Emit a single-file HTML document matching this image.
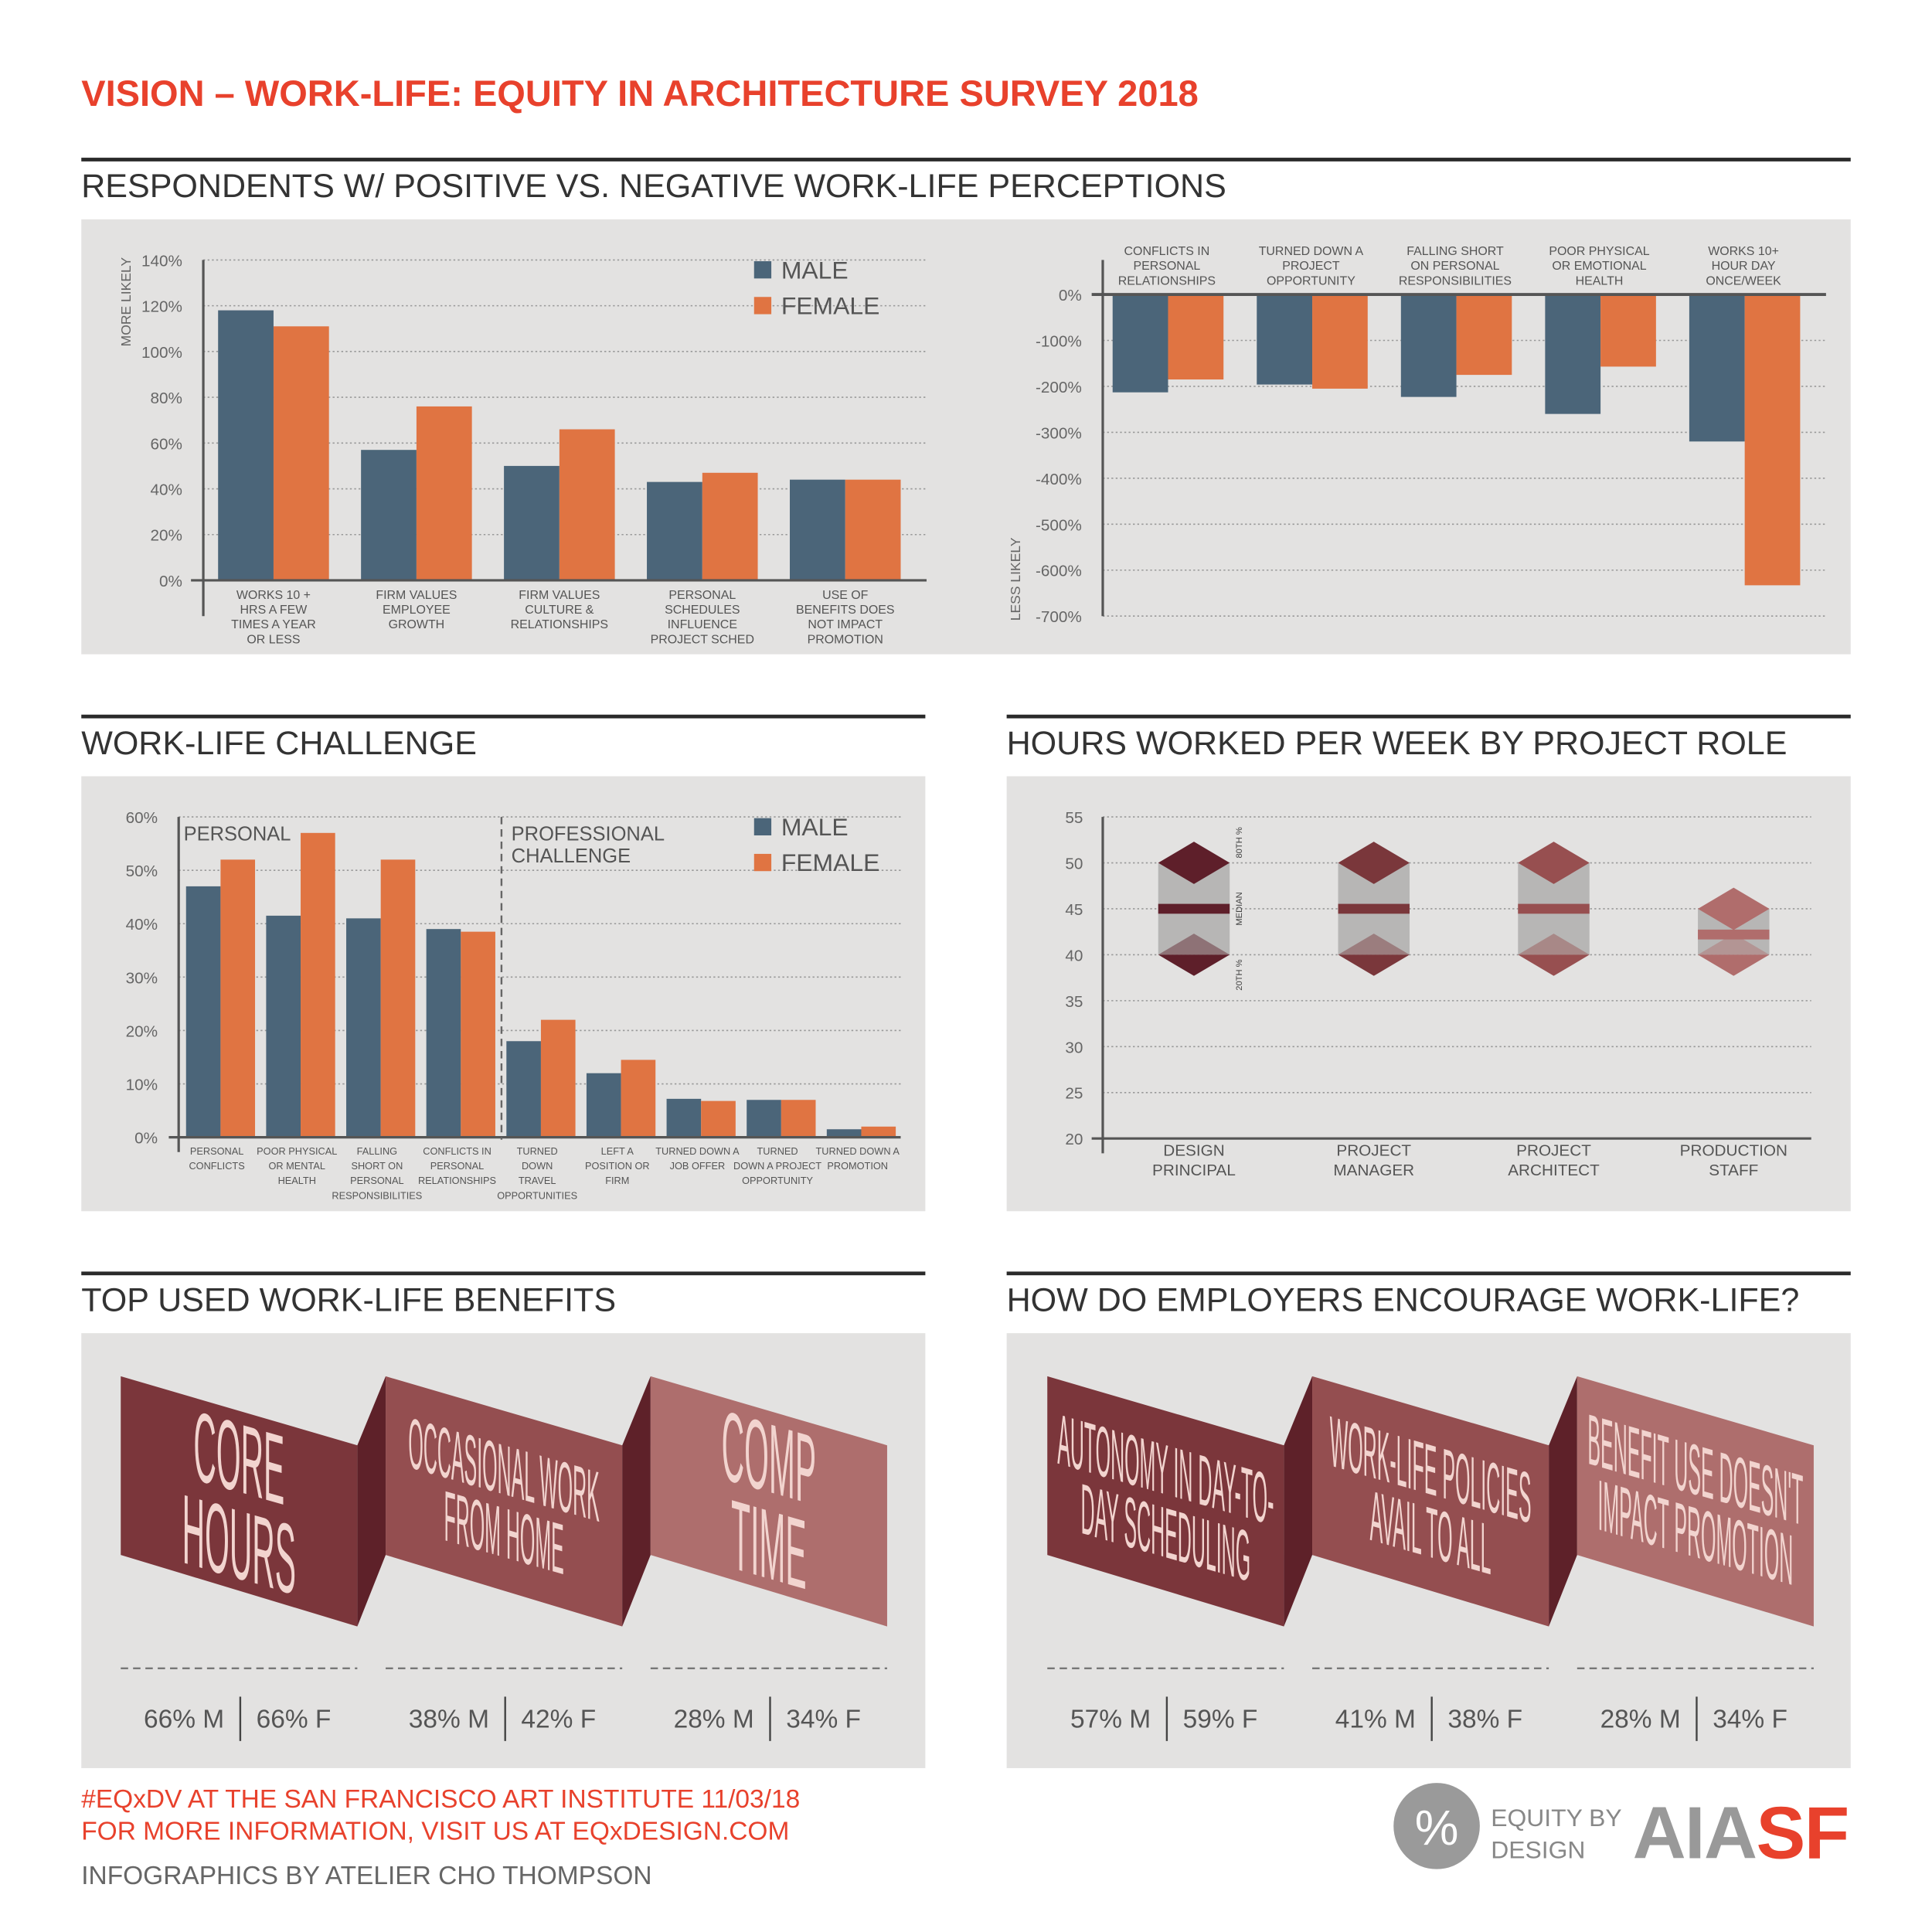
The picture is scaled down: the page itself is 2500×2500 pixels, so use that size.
<!DOCTYPE html>
<html><head><meta charset="utf-8">
<style>
html,body{margin:0;padding:0;background:#fff;}
svg{display:block;}
text{font-family:"Liberation Sans",sans-serif;}
</style></head>
<body>
<svg id="root" width="2500" height="2500" viewBox="0 0 1568 1568" xmlns="http://www.w3.org/2000/svg">
<rect width="1568" height="1568" fill="#ffffff"/>
<text x="66" y="86" font-size="29.5" font-weight="bold" fill="#e8412c">VISION – WORK-LIFE: EQUITY IN ARCHITECTURE SURVEY 2018</text>
<g id="static"></g>
<g id="c1"></g><g id="c2"></g><g id="c3"></g><g id="c4"></g><g id="c5"></g><g id="c6"></g>
<g>
<text x="66" y="1467" font-size="21" fill="#e8412c">#EQxDV AT THE SAN FRANCISCO ART INSTITUTE 11/03/18</text>
<text x="66" y="1493" font-size="21" fill="#e8412c">FOR MORE INFORMATION, VISIT US AT EQxDESIGN.COM</text>
<text x="66" y="1529" font-size="21" fill="#666">INFOGRAPHICS BY ATELIER CHO THOMPSON</text>
<circle cx="1166" cy="1482" r="35" fill="#9a9a9a"/>
<text x="1166" y="1497" font-size="40" fill="#fff" text-anchor="middle">%</text>
<text x="1210" y="1482" font-size="20" fill="#888">EQUITY BY</text>
<text x="1210" y="1508" font-size="20" fill="#888">DESIGN</text>
<text x="1325" y="1508" font-size="60" font-weight="bold" fill="#999" letter-spacing="-1">AIA<tspan fill="#e8412c">SF</tspan></text>
</g>
</svg>
<script>
const NS="http://www.w3.org/2000/svg";
function mk(p,tag,a,txt){const e=document.createElementNS(NS,tag);for(const k in a)e.setAttribute(k,a[k]);if(txt!==undefined)e.textContent=txt;p.appendChild(e);return e;}
const MALE="#4b6579",FEM="#e07442",GRID="#999";

// ---------- DATA ----------
const c1Cats=[["WORKS 10 +","HRS A FEW","TIMES A YEAR","OR LESS"],["FIRM VALUES","EMPLOYEE","GROWTH"],["FIRM VALUES","CULTURE &","RELATIONSHIPS"],["PERSONAL","SCHEDULES","INFLUENCE","PROJECT SCHED"],["USE OF","BENEFITS DOES","NOT IMPACT","PROMOTION"]];
const c1Male=[118,57,50,43,44];
const c1Female=[111,76,66,47,44];
const c1Ticks=[0,20,40,60,80,100,120,140];

const c2Cats=[["CONFLICTS IN","PERSONAL","RELATIONSHIPS"],["TURNED DOWN A","PROJECT","OPPORTUNITY"],["FALLING SHORT","ON PERSONAL","RESPONSIBILITIES"],["POOR PHYSICAL","OR EMOTIONAL","HEALTH"],["WORKS 10+","HOUR DAY","ONCE/WEEK"]];
const c2Male=[-213,-196,-223,-260,-320];
const c2Female=[-185,-205,-175,-157,-633];
const c2Ticks=[0,-100,-200,-300,-400,-500,-600,-700];

const c3Cats=[["PERSONAL","CONFLICTS"],["POOR PHYSICAL","OR MENTAL","HEALTH"],["FALLING","SHORT ON","PERSONAL","RESPONSIBILITIES"],["CONFLICTS IN","PERSONAL","RELATIONSHIPS"],["TURNED","DOWN","TRAVEL","OPPORTUNITIES"],["LEFT A","POSITION OR","FIRM"],["TURNED DOWN A","JOB OFFER"],["TURNED","DOWN A PROJECT","OPPORTUNITY"],["TURNED DOWN A","PROMOTION"]];
const c3Male=[47,41.5,41,39,18,12,7.2,7,1.5];
const c3Female=[52,57,52,38.5,22,14.5,6.8,7,2];
const c3Ticks=[0,10,20,30,40,50,60];

const c4Cats=[["DESIGN","PRINCIPAL"],["PROJECT","MANAGER"],["PROJECT","ARCHITECT"],["PRODUCTION","STAFF"]];
const c4P80=[50,50,50,45];
const c4Median=[45,45,45,42.2];
const c4P20=[40,40,40,40];
const c4Ticks=[20,25,30,35,40,45,50,55];

const c5Labels=[["CORE","HOURS"],["OCCASIONAL WORK","FROM HOME"],["COMP","TIME"]];
const c5Male=["66% M","38% M","28% M"];
const c5Female=["66% F","42% F","34% F"];
const c6Labels=[["AUTONOMY IN DAY-TO-","DAY SCHEDULING"],["WORK-LIFE POLICIES","AVAIL TO ALL"],["BENEFIT USE DOESN'T","IMPACT PROMOTION"]];
const c6Male=["57% M","41% M","28% M"];
const c6Female=["59% F","38% F","34% F"];

// ---------- STATIC LAYOUT ----------
const st=document.getElementById('static');
function section(x,y,w,title,ph,name){
  const r=mk(st,'rect',{x:x,y:y,width:w,height:3,fill:'#2a2a2a'});
  
  
  const t=mk(st,'text',{x:x,y:y+32,'font-size':27,fill:'#333'},title);
  
  
  const p=mk(st,'rect',{x:x,y:y+50,width:w,height:ph,fill:'#e3e2e1'});
  
  
}
section(66,128,1436,'RESPONDENTS W/ POSITIVE VS. NEGATIVE WORK-LIFE PERCEPTIONS',353,'perceptions');
section(66,580,685,'WORK-LIFE CHALLENGE',353,'challenge');
section(817,580,685,'HOURS WORKED PER WEEK BY PROJECT ROLE',353,'hours');
section(66,1032,685,'TOP USED WORK-LIFE BENEFITS',353,'benefits');
section(817,1032,685,'HOW DO EMPLOYERS ENCOURAGE WORK-LIFE?',353,'employers');

function multiline(g,x,y,lines,fs,lh,col,anchor){
  const t=mk(g,'text',{x:x,y:y,'font-size':fs,fill:col||'#555','text-anchor':anchor||'middle'});
  lines.forEach((l,i)=>{mk(t,'tspan',{x:x,dy:i?lh:0},l);});
  return t;
}
function legend(g,x,y){
  const a=mk(g,'rect',{x:x,y:y-14,width:14,height:14,fill:MALE});
  
  
  const at=mk(g,'text',{x:x+22,y:y,'font-size':20,fill:'#555'},'MALE');
  
  
  const b=mk(g,'rect',{x:x,y:y+15,width:14,height:14,fill:FEM});
  
  
  const bt=mk(g,'text',{x:x+22,y:y+29,'font-size':20,fill:'#555'},'FEMALE');
  
  
}

// ---------- CHART 1 ----------
(function(){
  const g=document.getElementById('c1');
  const y=v=>471-(v/140)*260;
  const x0=222,dx=116,bw=45;
  c1Ticks.forEach(t=>{
    if(t>0){const l=mk(g,'line',{x1:165,x2:752,y1:y(t),y2:y(t),stroke:GRID,'stroke-dasharray':'1.5 2','stroke-width':1});}
    const tl=mk(g,'text',{x:148,y:y(t)+5,'font-size':13,fill:'#666','text-anchor':'end'},t+'%');
    
    
  });
  c1Male.forEach((v,i)=>{
    const cx=x0+i*dx;
    const m=mk(g,'rect',{x:cx-bw,y:y(v),width:bw,height:y(0)-y(v),fill:MALE});
    
    
    const f=mk(g,'rect',{x:cx,y:y(c1Female[i]),width:bw,height:y(0)-y(c1Female[i]),fill:FEM});
    
    
    const lb=multiline(g,cx,486,c1Cats[i],10,12);
    
    
  });
  mk(g,'line',{x1:165,x2:165,y1:211,y2:500,stroke:'#555','stroke-width':2});
  mk(g,'line',{x1:155,x2:752,y1:471,y2:471,stroke:'#555','stroke-width':2});
  const yt=mk(g,'text',{x:0,y:0,'font-size':11,fill:'#666','text-anchor':'middle',transform:'translate(106,245) rotate(-90)'},'MORE LIKELY');
  
  
  legend(g,612,226);
})();

// ---------- CHART 2 ----------
(function(){
  const g=document.getElementById('c2');
  const y=v=>239+(v/-700)*261;
  const x0=947,dx=117,bw=45;
  c2Ticks.forEach(t=>{
    if(t<0){const l=mk(g,'line',{x1:895,x2:1482,y1:y(t),y2:y(t),stroke:GRID,'stroke-dasharray':'1.5 2'});}
    const tl=mk(g,'text',{x:878,y:y(t)+5,'font-size':13,fill:'#666','text-anchor':'end'},t+'%');
    
    
  });
  c2Male.forEach((v,i)=>{
    const cx=x0+i*dx;
    const m=mk(g,'rect',{x:cx-bw+1,y:y(0),width:bw,height:y(v)-y(0),fill:MALE});
    
    
    const f=mk(g,'rect',{x:cx+1,y:y(0),width:bw,height:y(c2Female[i])-y(0),fill:FEM});
    
    
    const lb=multiline(g,cx,207,c2Cats[i],10,12);
    
    
  });
  mk(g,'line',{x1:895,x2:895,y1:211,y2:500,stroke:'#555','stroke-width':2});
  mk(g,'line',{x1:886,x2:1482,y1:239,y2:239,stroke:'#555','stroke-width':2.5});
  const yt=mk(g,'text',{x:0,y:0,'font-size':11,fill:'#666','text-anchor':'middle',transform:'translate(828,470) rotate(-90)'},'LESS LIKELY');
  
  
})();

// ---------- CHART 3 ----------
(function(){
  const g=document.getElementById('c3');
  const y=v=>923-(v/60)*260;
  const x0=176,dx=65,bw=28;
  c3Ticks.forEach(t=>{
    if(t>0){const l=mk(g,'line',{x1:145,x2:731,y1:y(t),y2:y(t),stroke:GRID,'stroke-dasharray':'1.5 2'});}
    const tl=mk(g,'text',{x:128,y:y(t)+5,'font-size':13,fill:'#666','text-anchor':'end'},t+'%');
    
    
  });
  c3Male.forEach((v,i)=>{
    const cx=x0+i*dx;
    const m=mk(g,'rect',{x:cx-bw+3,y:y(v),width:bw,height:y(0)-y(v),fill:MALE});
    
    
    const f=mk(g,'rect',{x:cx+3,y:y(c3Female[i]),width:bw,height:y(0)-y(c3Female[i]),fill:FEM});
    
    
    const lb=multiline(g,cx,937,c3Cats[i],8,12);
    
    
  });
  mk(g,'line',{x1:145,x2:145,y1:663,y2:935,stroke:'#555','stroke-width':2});
  mk(g,'line',{x1:137,x2:731,y1:923,y2:923,stroke:'#555','stroke-width':2});
  mk(g,'line',{x1:407,x2:407,y1:663,y2:925,stroke:'#666','stroke-width':1.5,'stroke-dasharray':'6 4'});
  const p=mk(g,'text',{x:149,y:682,'font-size':16,fill:'#555'},'PERSONAL');
  
  
  const pr=multiline(g,415,682,['PROFESSIONAL','CHALLENGE'],16,18,'#555','start');
  
  
  legend(g,612,678);
})();

// ---------- CHART 4 ----------
(function(){
  const g=document.getElementById('c4');
  const y=v=>924-((v-20)/35)*261;
  const x0=969,dx=146,hw=29,dh=2.3;
  const shades=['#5e1f2a','#7a373b','#974f50','#b06d6c'];
  c4Ticks.forEach(t=>{
    if(t>20){const l=mk(g,'line',{x1:895,x2:1470,y1:y(t),y2:y(t),stroke:GRID,'stroke-dasharray':'1.5 2'});}
    const tl=mk(g,'text',{x:879,y:y(t)+5,'font-size':13,fill:'#666','text-anchor':'end'},String(t));
    
    
  });
  c4P80.forEach((p80,i)=>{
    const cx=x0+i*dx, col=shades[i], p20=c4P20[i], med=c4Median[i];
    const r=mk(g,'rect',{x:cx-hw,y:y(p80),width:2*hw,height:y(p20)-y(p80),fill:'#b7b6b5'});
    
    
    const d1=mk(g,'polygon',{points:`${cx},${y(p80+dh)} ${cx+hw},${y(p80)} ${cx},${y(p80-dh)} ${cx-hw},${y(p80)}`,fill:col});
    
    
    const d2a=mk(g,'polygon',{points:`${cx},${y(p20+dh)} ${cx+hw},${y(p20)} ${cx-hw},${y(p20)}`,fill:col,opacity:0.45});
    
    
    const d2=mk(g,'polygon',{points:`${cx-hw},${y(p20)} ${cx+hw},${y(p20)} ${cx},${y(p20-dh)}`,fill:col});
    
    
    const m=mk(g,'rect',{x:cx-hw,y:y(med)-4,width:2*hw,height:8,fill:col});
    
    
    const lb=multiline(g,cx,938,c4Cats[i],13,16,'#555');
    
    
  });
  [['80TH %',52.2],['MEDIAN',45],['20TH %',37.8]].forEach(([t,v])=>{
    const e=mk(g,'text',{x:0,y:0,'font-size':7,fill:'#444','text-anchor':'middle',transform:`translate(1008,${y(v)}) rotate(-90)`},t);
    
    
  });
  mk(g,'line',{x1:895,x2:895,y1:663,y2:936,stroke:'#555','stroke-width':2});
  mk(g,'line',{x1:886,x2:1470,y1:924,y2:924,stroke:'#555','stroke-width':2});
})();

// ---------- RIBBONS ----------
function ribbons(gid,ox,labels,mv,fv,name){
  const g=document.getElementById(gid);
  const cols=['#7b363b','#944e50','#ae6e6d'];
  const fold='#5e2129';
  for(let i=0;i<3;i++){
    const x1=ox+i*215, x2=x1+192;
    const p=mk(g,'polygon',{points:`${x1},1117 ${x2},1173 ${x2},1320 ${x1},1262`,fill:cols[i]});
    
    
    if(i<2){
      const f=mk(g,'polygon',{points:`${x2},1173 ${x2+23},1117 ${x2+23},1262 ${x2},1320`,fill:fold});
      
      
    }
    const cx=(x1+x2)/2;
    const lines=labels[i];
    const long=lines[0].length>8;
    const fs=long?58:80;
    const sx=long?0.27:0.32;
    const cy=1218-(lines.length-1)*fs*0.45+fs*0.36;
    const t=mk(g,'text',{'font-size':fs,fill:'#f2d4cf','text-anchor':'middle',transform:`translate(${cx},${cy}) skewY(16) scale(${sx},1)`});
    lines.forEach((l,k)=>{mk(t,'tspan',{x:0,y:k*fs*0.88},l);});
    
    
    const dl=mk(g,'line',{x1:x1,x2:x2,y1:1354,y2:1354,stroke:'#777','stroke-width':1.5,'stroke-dasharray':'6 4'});
    
    
    const sep=x1+97;
    mk(g,'line',{x1:sep,x2:sep,y1:1377,y2:1413,stroke:'#444','stroke-width':1.5});
    const a=mk(g,'text',{x:sep-13,y:1402,'font-size':21,fill:'#555','text-anchor':'end'},mv[i]);
    
    
    const b=mk(g,'text',{x:sep+13,y:1402,'font-size':21,fill:'#555'},fv[i]);
    
    
  }
}
ribbons('c5',98,c5Labels,c5Male,c5Female,'benefits');
ribbons('c6',850,c6Labels,c6Male,c6Female,'employers');
</script>
</body></html>
